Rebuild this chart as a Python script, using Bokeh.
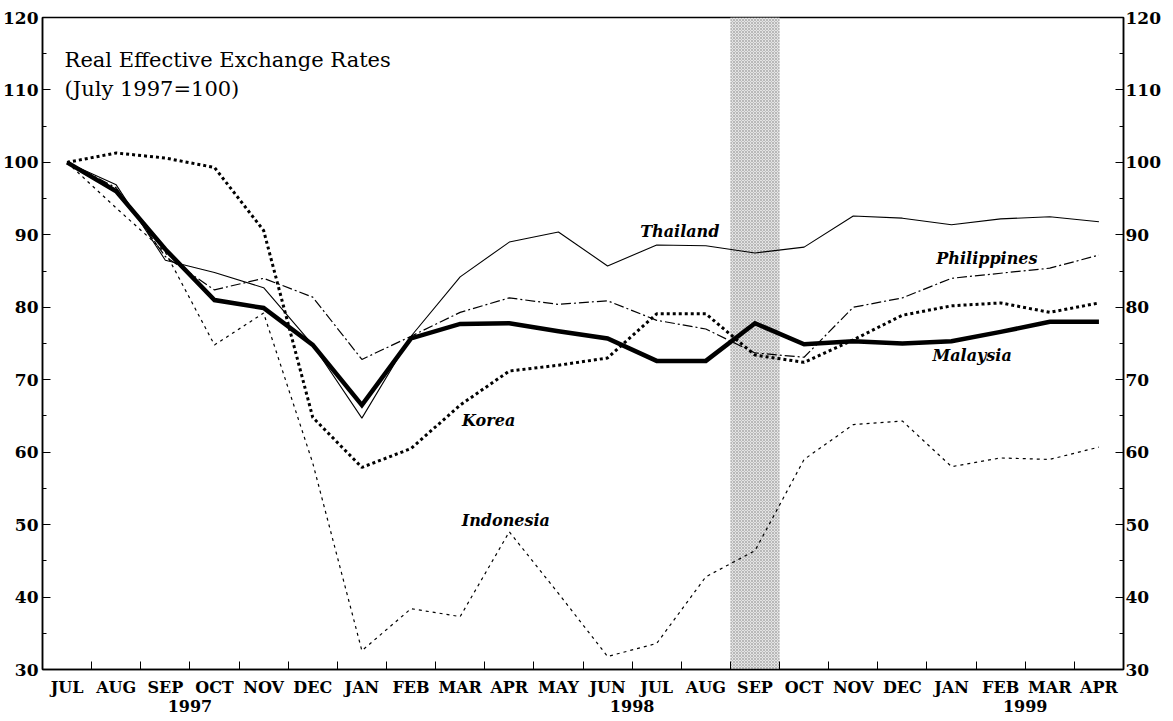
from bokeh.plotting import figure
from bokeh.models import LinearAxis, FixedTicker, Range1d, Label, ColumnDataSource
from bokeh.core.properties import value
from bokeh.embed import file_html
from bokeh.resources import INLINE

# ---------------- data ----------------
months = ["JUL", "AUG", "SEP", "OCT", "NOV", "DEC", "JAN", "FEB", "MAR", "APR", "MAY", "JUN",
          "JUL", "AUG", "SEP", "OCT", "NOV", "DEC", "JAN", "FEB", "MAR", "APR"]
years = ["1997", "1998", "1999"]
year_after_month = [2, 11, 19]          # year label sits after these month indices

malaysia    = [100, 96.0, 88.0, 81.0, 79.9, 74.8, 66.5, 75.7, 77.7, 77.8, 76.7, 75.7,
               72.6, 72.6, 77.8, 74.9, 75.3, 75.0, 75.3, 76.6, 78.0, 78.0]
thailand    = [100, 96.9, 86.5, 84.8, 82.7, 74.8, 64.7, 76.0, 84.2, 89.0, 90.4, 85.7,
               88.6, 88.5, 87.5, 88.3, 92.6, 92.3, 91.4, 92.2, 92.5, 91.8]
philippines = [100, 96.5, 87.0, 82.4, 84.0, 81.4, 72.8, 76.0, 79.3, 81.3, 80.4, 80.9,
               78.2, 77.0, 73.7, 73.1, 80.0, 81.3, 84.0, 84.7, 85.4, 87.2]
korea       = [100, 101.3, 100.6, 99.3, 90.6, 64.8, 57.9, 60.5, 66.5, 71.2, 72.0, 73.0,
               79.1, 79.1, 73.4, 72.4, 75.5, 78.9, 80.2, 80.6, 79.3, 80.6]
indonesia   = [100, 93.7, 87.6, 74.8, 79.2, 58.5, 32.6, 38.4, 37.3, 49.0, 40.5, 31.8,
               33.6, 42.8, 46.4, 59.0, 63.8, 64.3, 58.0, 59.2, 59.0, 60.7]
shaded_month = 14                         # SEP 1998
y_ticks = [30, 40, 50, 60, 70, 80, 90, 100, 110, 120]

x = list(range(len(months)))

# ---------------- figure ----------------
p = figure(width=1163, height=714, output_backend="svg", toolbar_location=None,
           x_range=Range1d(-0.5, len(months) - 0.5), y_range=Range1d(30, 120),
           min_border_left=39, min_border_right=0, min_border_top=17, min_border_bottom=0,
           background_fill_color="white", border_fill_color="white")
p.xgrid.visible = False
p.ygrid.visible = False
p.outline_line_color = "black"
p.outline_line_width = 1.5

AX_FONT = "DejaVu Serif"

# y axes (left + right)
yticker = FixedTicker(ticks=y_ticks, minor_ticks=[t + 5 for t in y_ticks[:-1]])
def style_y(ax, standoff):
    ax.ticker = yticker
    ax.major_tick_in = 8
    ax.major_tick_out = 0
    ax.minor_tick_in = 4
    ax.minor_tick_out = 0
    ax.axis_line_color = "black"
    ax.axis_line_width = 1.5
    ax.major_tick_line_color = "black"
    ax.minor_tick_line_color = "black"
    ax.major_label_text_font = AX_FONT
    ax.major_label_text_font_style = "bold"
    ax.major_label_text_font_size = "17px"
    ax.major_label_text_color = "black"
    ax.major_label_standoff = standoff

style_y(p.yaxis[0], 4)
ry = LinearAxis()
style_y(ry, 2)
p.add_layout(ry, "right")

# x axis with months
xa = p.xaxis[0]
xa.ticker = FixedTicker(ticks=x, minor_ticks=[i + 0.5 for i in x[:-1]])
xa.major_label_overrides = {i: m for i, m in zip(x, months)}
xa.major_tick_in = 0
xa.major_tick_out = 0
xa.minor_tick_in = 8
xa.minor_tick_out = 0
xa.minor_tick_line_color = "black"
xa.axis_line_color = "black"
xa.axis_line_width = 1.5
xa.major_label_text_font = AX_FONT
xa.major_label_text_font_style = "bold"
xa.major_label_text_font_size = "16px"
xa.major_label_text_color = "black"
xa.major_label_standoff = 8

# year axis
year_pos = [m + 0.5 for m in year_after_month]
ya = LinearAxis(ticker=FixedTicker(ticks=year_pos),
                major_label_overrides={yp: yr for yp, yr in zip(year_pos, years)})
ya.axis_line_color = None
ya.major_tick_line_color = None
ya.minor_tick_line_color = None
ya.major_label_text_font = AX_FONT
ya.major_label_text_font_style = "bold"
ya.major_label_text_font_size = "16px"
ya.major_label_text_color = "black"
ya.major_label_standoff = -6
p.add_layout(ya, "below")

# shaded band
p.quad(left=[shaded_month - 0.5], right=[shaded_month + 0.5], bottom=[30], top=[120],
       fill_color="#e4e4e4", line_color=None,
       hatch_pattern="x", hatch_color="#9a9a9a", hatch_scale=3, hatch_weight=0.6)

# series
p.line(x, indonesia, line_color="black", line_width=1.2, line_dash="3 4")
p.line(x, philippines, line_color="black", line_width=1.2, line_dash="10 3 2 3")
p.line(x, thailand, line_color="black", line_width=1.1)
p.line(x, korea, line_color="black", line_width=3, line_dash="3 3")
p.line(x, malaysia, line_color="black", line_width=4.5, line_join="miter")

# series labels
lab = ColumnDataSource(dict(
    name=["Thailand", "Philippines", "Malaysia", "Korea", "Indonesia"],
    lx=[12.47, 18.72, 18.42, 8.58, 8.93],
    ly=[90.4, 86.7, 73.4, 64.4, 50.6],
))
p.text(x="lx", y="ly", text="name", source=lab, text_font=value("DejaVu Serif"),
       text_font_style="bold italic", text_font_size="16px", text_color="black",
       text_align="center", text_baseline="middle")

# title
for t, ty in [("Real Effective Exchange Rates", 114.2), ("(July 1997=100)", 110.1)]:
    p.add_layout(Label(x=-0.05, y=ty, text=t, text_font="DejaVu Serif",
                       text_font_size="21px", text_color="black",
                       text_baseline="alphabetic", text_align="left"))

open("out.html", "w").write(file_html(p, INLINE))
